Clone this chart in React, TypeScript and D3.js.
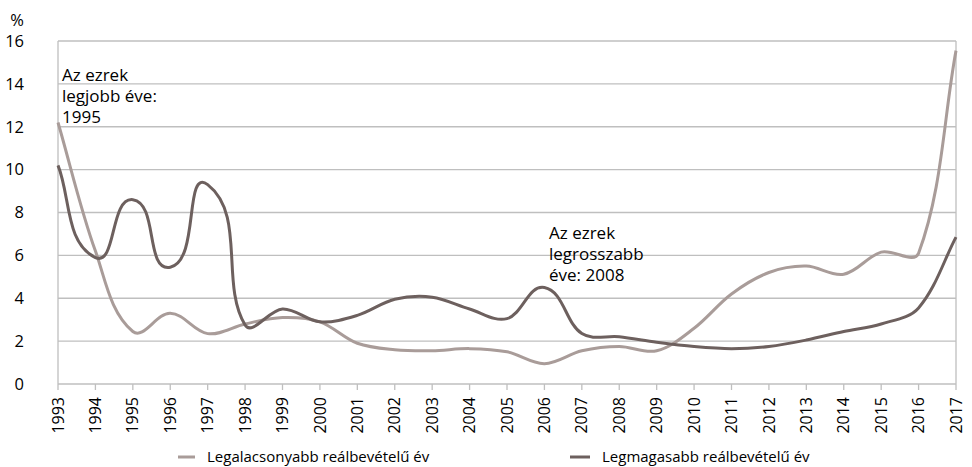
import React from "react";
import * as d3 from "d3";

const years = [1993,1994,1995,1996,1997,1998,1999,2000,2001,2002,2003,2004,2005,2006,2007,2008,2009,2010,2011,2012,2013,2014,2015,2016,2017];
const lowest = [12.2,6.2,2.45,3.3,2.35,2.8,3.1,2.9,1.9,1.6,1.55,1.65,1.5,0.95,1.55,1.75,1.55,2.6,4.2,5.2,5.5,5.12,6.15,6.1,15.55];
const highest = [10.2,5.9,8.6,5.45,9.3,2.75,3.5,2.9,3.2,3.95,4.05,3.5,3.05,4.5,2.35,2.2,1.95,1.75,1.65,1.75,2.05,2.45,2.8,3.55,6.85];
const yTicks = [0,2,4,6,8,10,12,14,16];
const seriesNames = ["Legalacsonyabb reálbevételű év", "Legmagasabb reálbevételű év"];
const note1 = ["Az ezrek", "legjobb éve:", "1995"];
const note2 = ["Az ezrek", "legrosszabb", "éve: 2008"];

const W = 972, H = 467;
const left = 58, right = 956, top = 41, bottom = 384;
const FONT = "'Open Sans', sans-serif";
const LIGHT = "#a99c99";
const DARK = "#6d605e";
const GRID = "#bfbfbf";

type Pt = [number, number];

// Smoothed line through every point: the tangent at each point follows the
// chord between its neighbours, and each control arm is a third of the
// segment's own length, so long jumps stay taut and short steps stay flat.
function smoothPath(pts: Pt[]): string {
  const n = pts.length;
  const unit = (a: Pt, b: Pt): Pt => {
    const dx = b[0] - a[0], dy = b[1] - a[1];
    const l = Math.hypot(dx, dy) || 1;
    return [dx / l, dy / l];
  };
  const tangents: Pt[] = pts.map((_, i) =>
    unit(pts[Math.max(0, i - 1)], pts[Math.min(n - 1, i + 1)])
  );
  const p = d3.path();
  p.moveTo(pts[0][0], pts[0][1]);
  for (let i = 0; i < n - 1; i++) {
    const a = pts[i], b = pts[i + 1];
    const k = Math.hypot(b[0] - a[0], b[1] - a[1]) / 3;
    const ta = tangents[i], tb = tangents[i + 1];
    p.bezierCurveTo(
      a[0] + ta[0] * k, a[1] + ta[1] * k,
      b[0] - tb[0] * k, b[1] - tb[1] * k,
      b[0], b[1]
    );
  }
  return p.toString();
}

export default function App() {
  const x = d3.scaleLinear().domain([1993, 2017]).range([left, right]);
  const y = d3.scaleLinear().domain([0, 16]).range([bottom, top]);
  const toPts = (vals: number[]): Pt[] => vals.map((v, i) => [x(years[i]), y(v)]);

  return (
    <svg width={W} height={H} style={{ position: "absolute", left: 0, top: 0, fontFamily: FONT }}>
      <rect width={W} height={H} fill="#fff" />
      {yTicks.map(t => (
        <g key={t}>
          {t > 0 && <line x1={left} x2={right} y1={y(t)} y2={y(t)} stroke={GRID} strokeWidth={1.3} />}
          <text x={24} y={y(t)} dy="0.35em" textAnchor="end" fontSize={16.5} fill="#000">{t}</text>
        </g>
      ))}
      <text x={24} y={20} dy="0.35em" textAnchor="end" fontSize={16.5} fill="#000">%</text>
      <line x1={left} x2={left} y1={top} y2={bottom} stroke={GRID} strokeWidth={1.3} />
      <line x1={right} x2={right} y1={top} y2={bottom} stroke={GRID} strokeWidth={1.3} />
      <line x1={left} x2={right} y1={bottom} y2={bottom} stroke={GRID} strokeWidth={1.3} />
      {years.map(yr => (
        <g key={yr}>
          <line x1={x(yr)} x2={x(yr)} y1={bottom} y2={bottom + 6} stroke={GRID} strokeWidth={1.3} />
          <text
            transform={`translate(${x(yr)},${bottom + 13}) rotate(-90)`}
            textAnchor="end" dy="0.35em" fontSize={16} fill="#000"
          >{yr}</text>
        </g>
      ))}
      <path d={smoothPath(toPts(lowest))} fill="none" stroke={LIGHT} strokeWidth={3} strokeLinejoin="round" />
      <path d={smoothPath(toPts(highest))} fill="none" stroke={DARK} strokeWidth={3} strokeLinejoin="round" />
      <text fontSize={17} fill="#000">
        {note1.map((s, i) => (
          <tspan key={i} x={62} y={81 + i * 21}>{s}</tspan>
        ))}
      </text>
      <text fontSize={17} fill="#000">
        {note2.map((s, i) => (
          <tspan key={i} x={549} y={239 + i * 21}>{s}</tspan>
        ))}
      </text>
      <g>
        <line x1={178} x2={195} y1={457} y2={457} stroke={LIGHT} strokeWidth={3} />
        <text x={207} y={457} dy="0.35em" fontSize={15} fill="#000">{seriesNames[0]}</text>
        <line x1={570} x2={590} y1={457} y2={457} stroke={DARK} strokeWidth={3} />
        <text x={602} y={457} dy="0.35em" fontSize={15} fill="#000">{seriesNames[1]}</text>
      </g>
    </svg>
  );
}
